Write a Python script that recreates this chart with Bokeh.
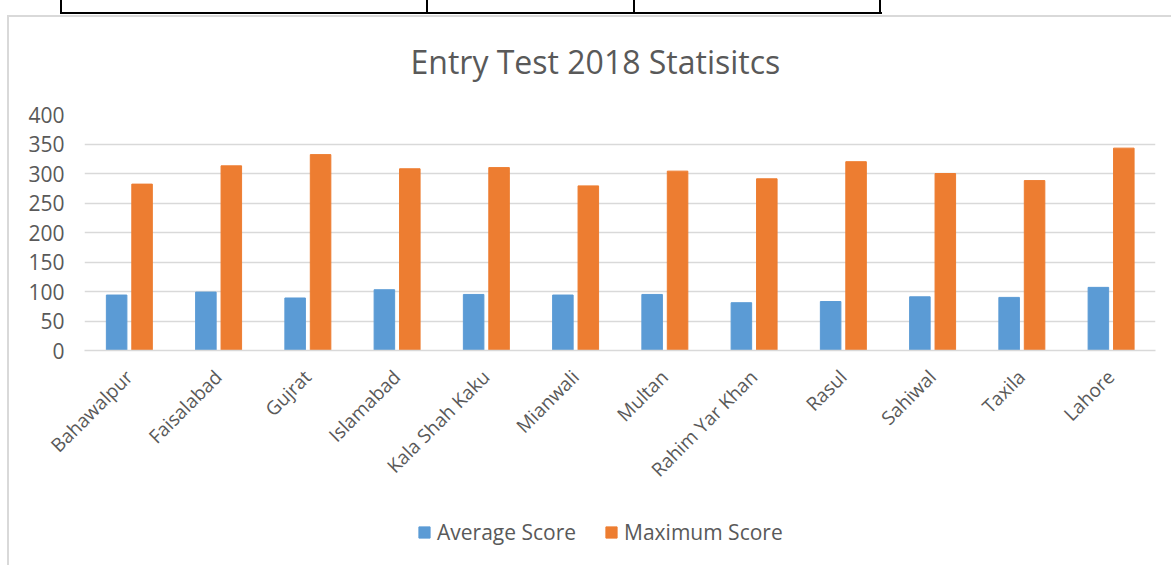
import math
from bokeh.plotting import figure
from bokeh.models import (Range1d, FactorRange, Legend, LegendItem, FixedTicker,
                          ColumnDataSource)
from bokeh.layouts import column
from bokeh.transform import dodge
from bokeh.embed import file_html
from bokeh.resources import INLINE

# ---------------- data ----------------
cities = ["Bahawalpur", "Faisalabad", "Gujrat", "Islamabad", "Kala Shah Kaku",
          "Mianwali", "Multan", "Rahim Yar Khan", "Rasul", "Sahiwal", "Taxila", "Lahore"]
average_score = [94, 99, 89, 103, 95, 94, 95, 81, 83, 91, 90, 107]
maximum_score = [282, 313, 332, 308, 310, 279, 304, 291, 320, 300, 288, 343]
y_ticks = [0, 50, 100, 150, 200, 250, 300, 350, 400]
title_text = "Entry Test 2018 Statisitcs"
series_names = ["Average Score", "Maximum Score"]

FONT = "Open Sans"
TXT = "#595959"
BLUE = "#5B9BD5"
ORANGE = "#ED7D31"
GRID = "#D9D9D9"

W = 1171
H_MAIN, H_LEG = 500, 65

# page decoration: chart-box border and the bottom edge of the table above it
def _css_lines(lines):
    return {
        "background-image": ", ".join(f"linear-gradient({c},{c})" for c, *_ in lines),
        "background-position": ", ".join(f"{x}px {y}px" for _, x, y, w, h in lines),
        "background-size": ", ".join(f"{w}px {h}px" for _, x, y, w, h in lines),
        "background-repeat": "no-repeat",
    }

main_deco = [(GRID, 7, 15, 1170, 2), (GRID, 7, 15, 2, 500),
             ("#000", 60, 12, 822, 2),
             ("#000", 60, 0, 2, 14), ("#000", 426, 0, 2, 14),
             ("#000", 633, 0, 2, 14), ("#000", 879, 0, 2, 14)]
legend_deco = [(GRID, 7, 0, 2, 65)]

src = ColumnDataSource(dict(city=cities, avg=average_score, mx=maximum_score))

p = figure(width=W, height=H_MAIN, output_backend="svg", toolbar_location=None,
           x_range=FactorRange(*cities), y_range=Range1d(0, 400),
           min_border_left=84, min_border_right=16, min_border_top=114,
           min_border_bottom=150, styles=_css_lines(main_deco))
p.outline_line_color = None
p.background_fill_color = "white"
p.border_fill_alpha = 0
p.x_range.range_padding = 0

p.title.text = title_text
p.title.align = "left"
p.title.offset = 326
p.title.text_font = FONT
p.title.text_font_size = "32px"
p.title.text_font_style = "normal"
p.title.text_color = TXT
p.title.standoff = 63

r1 = p.vbar(x=dodge("city", -0.14, range=p.x_range), top="avg", width=0.23, source=src,
            fill_color=BLUE, line_color=BLUE)
r2 = p.vbar(x=dodge("city", 0.145, range=p.x_range), top="mx", width=0.23, source=src,
            fill_color=ORANGE, line_color=ORANGE)

# y axis
p.yaxis.ticker = FixedTicker(ticks=y_ticks)
p.yaxis.axis_line_color = None
p.yaxis.major_tick_line_color = None
p.yaxis.minor_tick_line_color = None
p.yaxis.major_label_text_font = FONT
p.yaxis.major_label_text_font_size = "21px"
p.yaxis.major_label_text_color = TXT
p.yaxis.major_label_standoff = 14

p.ygrid.grid_line_color = GRID
p.ygrid.grid_line_width = 1.5
p.xgrid.grid_line_color = None

# x axis
p.xaxis.axis_line_color = GRID
p.xaxis.axis_line_width = 1.5
p.xaxis.major_tick_line_color = None
p.xaxis.minor_tick_line_color = None
p.xaxis.major_label_orientation = math.pi / 4
p.xaxis.major_label_text_font = FONT
p.xaxis.major_label_text_font_size = "19px"
p.xaxis.major_label_text_color = TXT
p.xaxis.major_label_standoff = 17

# ---------------- legend strip ----------------
# same series drawn again, but with a y range far above the data so that
# only their legend entries show
q = figure(width=W, height=H_LEG, output_backend="svg", toolbar_location=None,
           x_range=FactorRange(*cities), y_range=Range1d(1000, 1001), min_border=0,
           styles=_css_lines(legend_deco))
q.axis.visible = False
q.grid.visible = False
q.outline_line_color = None
q.title.visible = False
q.background_fill_alpha = 0
q.border_fill_alpha = 0
l1 = q.vbar(x=dodge("city", -0.14, range=q.x_range), top="avg", width=0.23, source=src,
            fill_color=BLUE, line_color=BLUE)
l2 = q.vbar(x=dodge("city", 0.145, range=q.x_range), top="mx", width=0.23, source=src,
            fill_color=ORANGE, line_color=ORANGE)

legend = Legend(items=[LegendItem(label=series_names[0], renderers=[l1]),
                       LegendItem(label=series_names[1], renderers=[l2])],
                orientation="horizontal", location=(333, 19),
                label_text_font=FONT, label_text_font_size="21px",
                label_text_color=TXT, border_line_color=None,
                background_fill_alpha=0, glyph_width=14, glyph_height=14,
                label_standoff=6, spacing=28, margin=0, padding=4)
q.add_layout(legend, "center")

layout = column(p, q, spacing=0)
open("out.html", "w").write(file_html(layout, INLINE))
